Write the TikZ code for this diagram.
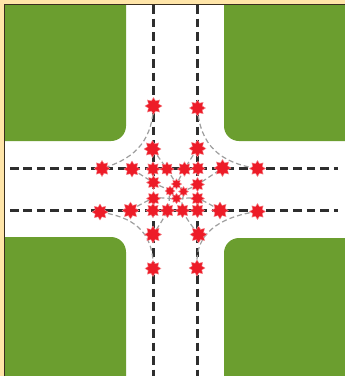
\documentclass[tikz,border=0pt]{standalone}
\usepackage{xcolor}
\usetikzlibrary{shapes.geometric}
\definecolor{grasscol}{RGB}{107,158,47}
\definecolor{sandcol}{RGB}{255,229,168}
\definecolor{edgecol}{RGB}{58,46,30}
\definecolor{conflictcol}{RGB}{237,28,40}
\pgfdeclarelayer{ground}
\pgfdeclarelayer{lanes}
\pgfsetlayers{ground,lanes,main}
\tikzset{
conflict/.style={star,star points=8,star point ratio=1.55,fill=conflictcol,draw=conflictcol!50,line width=0.4pt,inner sep=0pt,minimum size=#1},
conflict/.default=16pt,
lane/.style={draw=black!82,line width=2.5pt,dash pattern=on 8.5pt off 5pt},
turn/.style={draw=black!38,line width=1.2pt,dash pattern=on 5pt off 3pt},
grass/.style={fill=grasscol}
}
\begin{document}
\begin{tikzpicture}[x=1pt,y=-1pt]
\useasboundingbox(0,0)rectangle(345,376);
\foreach \name/\px/\py/\sz in {nA/153.5/106/17pt,nB/197.5/108/16pt,nC/152.5/149/17pt,nD/197.5/148.5/17pt,
wA/102/168.5/16pt,wB/132/169/16pt,wC/153/169/14.5pt,wD/167/169/14pt,wE/184.5/169/14.5pt,wF/198/168.5/14.5pt,wG/222.5/168/17pt,wH/257.5/168.5/16pt,
mA/153.5/182.5/14pt,mB/197.5/184.5/14pt,mC/153.5/198.5/14pt,mD/197.5/198.5/14pt,
cA/176.5/184/10.5pt,cB/170/191/10pt,cC/183.5/191.5/10pt,cD/176.5/198.5/10.5pt,
eA/100/212/16pt,eB/130.5/210.5/17pt,eC/153/210.5/14.5pt,eD/167.5/210.5/14.5pt,eE/182.5/210.5/14.5pt,eF/197.5/210.5/14.5pt,eG/220/210.5/17pt,eH/257.5/211.5/16pt,
sA/153/234.5/17pt,sB/198.5/234.5/17pt,sC/153/268.5/16pt,sD/197/268/16pt}
\node[conflict=\sz](\name)at(\px,\py){};
\begin{pgfonlayer}{ground}
\fill[sandcol](0,0)rectangle(345,376);
\fill[white](5,5)rectangle(345,376);
\path[grass](5,5)--(126,5)[rounded corners=15pt]--(126,141)[sharp corners]--(5,141)--cycle;
\path[grass](345,5)--(224,5)[rounded corners=15pt]--(224,141)[sharp corners]--(345,141)--cycle;
\path[grass](5,376)--(126,376)[rounded corners=15pt]--(126,237)[sharp corners]--(5,237)--cycle;
\path[grass](345,376)--(224,376)[rounded corners=15pt]--(224,238)[sharp corners]--(345,238)--cycle;
\draw[edgecol,line width=1.5pt](4.7,376)--(4.7,4.7)--(345,4.7);
\end{pgfonlayer}
\begin{pgfonlayer}{lanes}
\coordinate(topA)at(153.5,5);
\coordinate(topB)at(197.5,5);
\coordinate(botA)at(153.5,376);
\coordinate(botB)at(197.5,376);
\coordinate(lefA)at(10,168.5);
\coordinate(lefB)at(10,210.7);
\coordinate(rigA)at(338,168.5);
\coordinate(rigB)at(338,210.7);
\path[lane](topA)--(botA);
\path[lane](topB)--(botB);
\path[lane](lefA)--(rigA);
\path[lane](lefB)--(rigB);
\path[turn](nA.center)..controls(152,145)and(130,160)..(wA.center);
\path[turn](nB.center)..controls(200,145)and(220,163)..(wH.center);
\path[turn](eA.center)..controls(125,216)and(150,225)..(sC.north);
\path[turn](eH.center)..controls(225,216)and(198,230)..(sD.north);
\path[turn]plot[smooth,tension=0.6]coordinates{(nC.center)(wD.center)(cA.center)(cC.center)(eE.center)(sB.center)};
\path[turn]plot[smooth,tension=0.6]coordinates{(nD.center)(wE.center)(cA.center)(cB.center)(eD.center)(sA.center)};
\path[turn]plot[smooth,tension=0.6]coordinates{(wB.center)(mA.center)(cB.center)(cD.center)(mD.center)(eG.center)};
\path[turn]plot[smooth,tension=0.6]coordinates{(eB.center)(mC.center)(cD.center)(cC.center)(mB.center)(wG.center)};
\end{pgfonlayer}
\end{tikzpicture}
\end{document}
